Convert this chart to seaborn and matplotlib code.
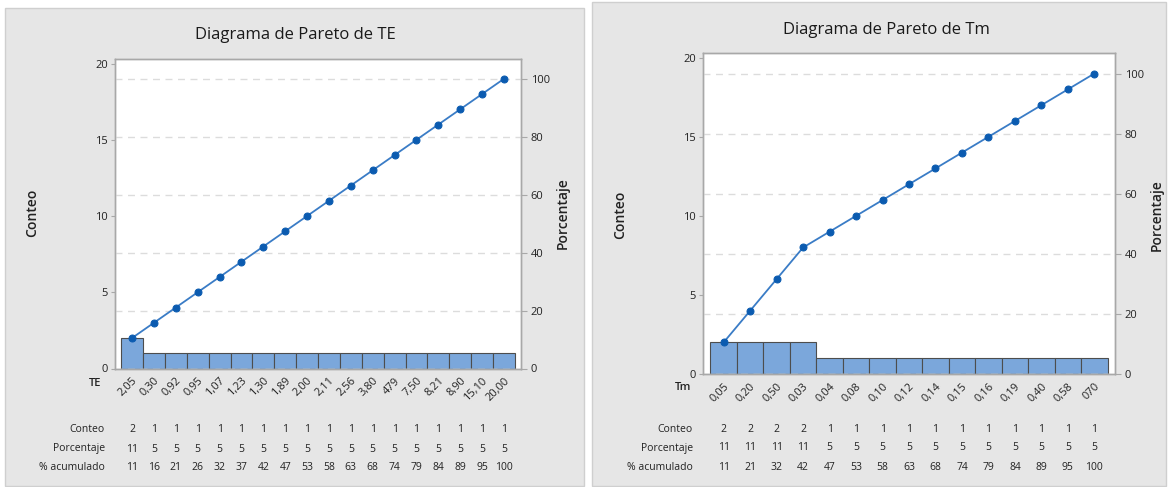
import numpy as np
import pandas as pd
import matplotlib
matplotlib.use("Agg")
import matplotlib.pyplot as plt
import matplotlib.transforms as mtransforms
from matplotlib.patches import Rectangle
import seaborn as sns

# ---- data ----
te_labels = ["2,05", "0,30", "0,92", "0,95", "1,07", "1,23", "1,30", "1,89", "2,00",
             "2,11", "2,56", "3,80", "479", "7,50", "8,21", "8,90", "15,10", "20,00"]
te_counts = [2, 1, 1, 1, 1, 1, 1, 1, 1, 1, 1, 1, 1, 1, 1, 1, 1, 1]

tm_labels = ["0,05", "0,20", "0,50", "0,03", "0,04", "0,08", "0,10", "0,12",
             "0,14", "0,15", "0,16", "0,19", "0,40", "0,58", "070"]
tm_counts = [2, 2, 2, 2, 1, 1, 1, 1, 1, 1, 1, 1, 1, 1, 1]

row_names = ["Conteo", "Porcentaje", "% acumulado"]

# ---- style ----
sns.set_style("white")
plt.rcParams["font.family"] = ["Open Sans", "DejaVu Sans"]

W, H = 1170, 487
fig = plt.figure(figsize=(W / 100, H / 100), dpi=100)

BAR = "#7ba7db"
BAR_EDGE = "#4d4d4d"
LINE = "#3a7cc6"
DOT = "#0b5bb0"
SPINE = "#a8a8a8"
PANEL = "#e6e6e6"


def fx(x):
    return x / W


def fy(y):
    return 1 - y / H


def panel(box, ax_box, labels, counts, title, title_xy, xname, xname_xy,
          ylab_x, plab_x, lab_y, row_x, row_ys):
    x0, y0, x1, y1 = box
    fig.add_artist(Rectangle((fx(x0), fy(y1)), fx(x1 - x0), (y1 - y0) / H,
                             transform=fig.transFigure, facecolor=PANEL,
                             edgecolor="#cfcfcf", lw=1, zorder=0))
    l, t, r, b = ax_box
    ax = fig.add_axes([fx(l), fy(b), fx(r - l), (b - t) / H])
    ax.set_facecolor("white")
    n = len(labels)
    total = sum(counts)
    df = pd.DataFrame({"cat": labels, "n": counts})
    sns.barplot(data=df, x="cat", y="n", order=labels, width=1.0, color=BAR,
                saturation=1, edgecolor=BAR_EDGE, linewidth=0.8, ax=ax)
    ymax = 20.3
    ax.set_ylim(0, ymax)
    ax.set_yticks([0, 5, 10, 15, 20])
    ax.set_xlabel("")
    ax.set_ylabel("")

    ax2 = ax.twinx()
    cum = np.cumsum(counts) / total * 100
    sns.lineplot(x=np.arange(n), y=cum, ax=ax2, color=LINE, linewidth=1.3,
                 marker="o", markersize=5, markerfacecolor=DOT,
                 markeredgecolor=DOT)
    ax2.set_ylim(0, ymax / total * 100)
    ax2.set_yticks([0, 20, 40, 60, 80, 100])
    ax2.yaxis.grid(True, linestyle=(0, (5, 4)), color="#dcdcdc", linewidth=1)
    ax2.set_axisbelow(True)
    ax2.set_xlabel("")
    ax2.set_ylabel("")
    ax.set_xlim(-0.78, n - 0.22)

    for a in (ax, ax2):
        for s in a.spines.values():
            s.set_color(SPINE)
            s.set_linewidth(1)
    ax.tick_params(axis="y", length=3, width=0.8, color=SPINE, labelsize=8,
                   pad=2, labelcolor="#222222")
    ax2.tick_params(axis="y", length=4, width=0.8, color=SPINE, labelsize=8,
                    pad=3, labelcolor="#222222")
    ax.tick_params(axis="x", length=3, width=0.8, color=SPINE, labelsize=8,
                   pad=2, labelcolor="#222222")
    ax.set_xticks(range(n))
    ax.set_xticklabels(labels, rotation=45, ha="right", rotation_mode="anchor")

    fig.text(fx(title_xy[0]), fy(title_xy[1]), title, ha="center", va="center",
             fontsize=12, color="#1a1a1a")
    fig.text(fx(xname_xy[0]), fy(xname_xy[1]), xname, ha="center",
             va="center", fontsize=8, fontweight="semibold", color="#222222")
    fig.text(fx(ylab_x), fy(lab_y), "Conteo", rotation=90, ha="center",
             va="center", fontsize=10, fontweight="semibold", color="#222222")
    fig.text(fx(plab_x), fy(lab_y), "Porcentaje", rotation=90, ha="center",
             va="center", fontsize=10, fontweight="semibold", color="#222222")

    pct = [c / total * 100 for c in counts]
    rows = [[f"{c:d}" for c in counts],
            [f"{p:.0f}" for p in pct],
            [f"{p:.0f}" for p in cum]]
    trans = mtransforms.blended_transform_factory(ax.transData, fig.transFigure)
    for name, vals, yy in zip(row_names, rows, row_ys):
        fig.text(fx(row_x), fy(yy), name, ha="right", va="center",
                 fontsize=7.5, color="#222222")
        for i, v in enumerate(vals):
            ax.text(i, fy(yy), v, transform=trans, ha="center", va="center",
                    fontsize=7.5, color="#222222")
    return ax


panel(box=(5, 8, 584, 486), ax_box=(115, 59, 521, 368.5),
      labels=te_labels, counts=te_counts, title="Diagrama de Pareto de TE",
      title_xy=(295, 35), xname="TE", xname_xy=(95, 383),
      ylab_x=32, plab_x=563, lab_y=213, row_x=105, row_ys=(430, 449, 467))

panel(box=(592, 2, 1166, 486), ax_box=(703, 53, 1115, 374),
      labels=tm_labels, counts=tm_counts, title="Diagrama de Pareto de Tm",
      title_xy=(886, 30), xname="Tm", xname_xy=(683, 388),
      ylab_x=620, plab_x=1157, lab_y=215, row_x=693, row_ys=(430, 448, 467))

fig.savefig("out.png", dpi=100, facecolor="white")
